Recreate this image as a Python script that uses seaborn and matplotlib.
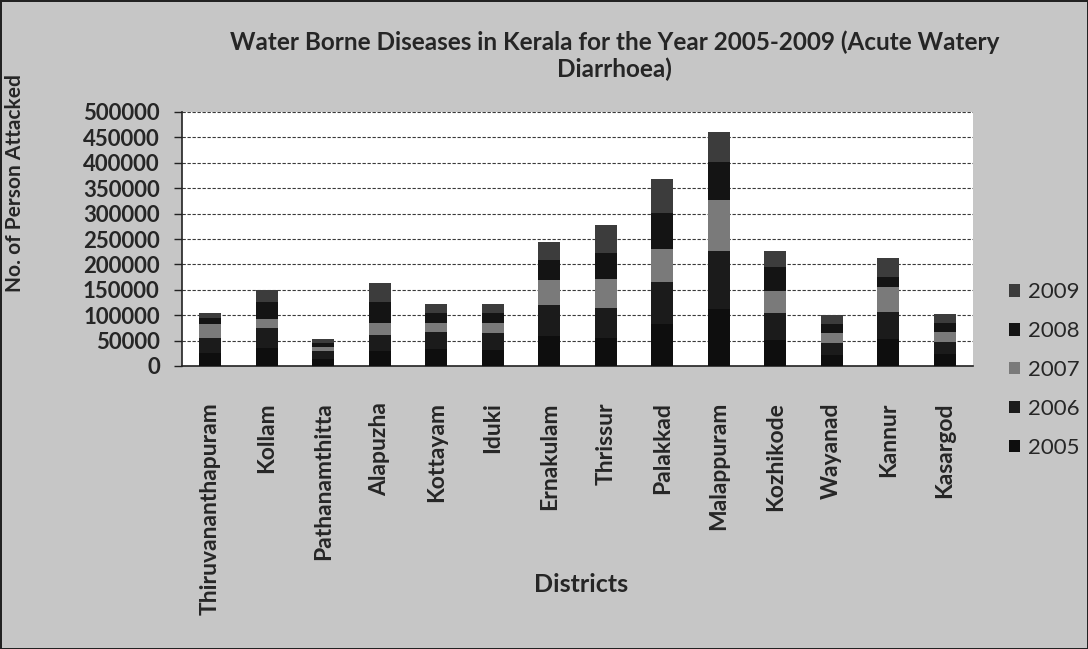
import numpy as np
import pandas as pd
import matplotlib
matplotlib.use('Agg')
import matplotlib.pyplot as plt
import seaborn as sns

# Style
sns.set_style("white")
plt.rcParams['font.family'] = ['Lato', 'DejaVu Sans']

# Data (cases per year, stacked)
districts = ['Thiruvananthapuram', 'Kollam', 'Pathanamthitta', 'Alapuzha', 'Kottayam',
             'Iduki', 'Ernakulam', 'Thrissur', 'Palakkad', 'Malappuram',
             'Kozhikode', 'Wayanad', 'Kannur', 'Kasargod']
years = ['2005', '2006', '2007', '2008', '2009']
cases_2005 = [26000, 36000, 14500, 30000, 33000, 32000, 59000, 56000, 82000, 112000, 51000, 22000, 53000, 23500]
cases_2006 = [28500, 38000, 15000, 31000, 34500, 33500, 61000, 57500, 84000, 115000, 52500, 22500, 54000, 24500]
cases_2007 = [27500, 18500, 8500, 24000, 17500, 20000, 49000, 57000, 63500, 100000, 45000, 20000, 49000, 19500]
cases_2008 = [12000, 34000, 7500, 40000, 19000, 18000, 39500, 51000, 71000, 75000, 47000, 18500, 20000, 17500]
cases_2009 = [11000, 23000, 7000, 38000, 18000, 18500, 35000, 57000, 67000, 58500, 31000, 17500, 36000, 17000]

year_colors = {'2005': '#0e0e0e', '2006': '#1b1b1b', '2007': '#7a7a7a',
               '2008': '#141414', '2009': '#3c3c3c'}

df = pd.DataFrame({'District': districts, '2005': cases_2005, '2006': cases_2006,
                   '2007': cases_2007, '2008': cases_2008, '2009': cases_2009})
cum = df[years].cumsum(axis=1)
cum['District'] = df['District']

fig = plt.figure(figsize=(10.88, 6.49), dpi=100)
fig.patch.set_facecolor('#c6c6c6')
fig.patch.set_edgecolor('#222222')
fig.patch.set_linewidth(2)

ax = fig.add_axes([182 / 1088, 1 - 366 / 649, 791 / 1088, 254 / 649])
ax.set_facecolor('white')

# stacked bars: draw cumulative totals, tallest first
for year in reversed(years):
    sns.barplot(data=cum, x='District', y=year, color=year_colors[year],
                saturation=1, width=0.39, linewidth=0, label=year, ax=ax, zorder=3)
handles, labels = ax.get_legend_handles_labels()
if ax.get_legend() is not None:
    ax.get_legend().remove()

ax.set_xlim(-0.5, len(districts) - 0.5)
ax.set_ylim(0, 500000)
ax.set_yticks(np.arange(0, 500001, 50000))
ax.set_yticklabels([f'{int(v)}' for v in np.arange(0, 500001, 50000)],
                   fontsize=16, fontweight='bold')
ax.yaxis.grid(True, color='#3a3a3a', linestyle=(0, (3, 1.5)), linewidth=0.8, zorder=0)
ax.set_axisbelow(True)

ax.set_xticks(range(len(districts)))
ax.set_xticklabels(districts, rotation=90, fontsize=16.5, fontweight='bold')
ax.set_xticks(np.arange(-0.5, len(districts)), minor=True)
ax.tick_params(axis='x', which='major', length=0, pad=26)
ax.tick_params(axis='x', which='minor', length=6, width=1, color='#222222', direction='out')
ax.tick_params(axis='y', length=6, width=1, color='#222222', direction='out', pad=10, left=True)

for side in ['top', 'right']:
    ax.spines[side].set_visible(False)
for side in ['left', 'bottom']:
    ax.spines[side].set_color('#222222')
    ax.spines[side].set_linewidth(1.2)

ax.set_xlabel('Districts', fontsize=18, fontweight='bold')
ax.xaxis.set_label_coords(0.505, -0.815)
ax.set_ylabel('No. of Person Attacked', fontsize=15, fontweight='bold')
ax.yaxis.set_label_coords(-0.198, 0.72)

fig.text(0.565, 1 - 56 / 649,
         'Water Borne Diseases in Kerala for the Year 2005-2009 (Acute Watery\nDiarrhoea)',
         ha='center', va='center', fontsize=17.5, fontweight='bold', linespacing=1.2)

fig.legend(handles, labels, loc='center left', bbox_to_anchor=(1000 / 1088, 1 - 370 / 649),
           frameon=False, fontsize=16, handlelength=0.5, handleheight=0.5,
           handletextpad=0.35, labelspacing=0.85, borderaxespad=0)

fig.savefig('out.png', dpi=100, facecolor=fig.get_facecolor(), edgecolor=fig.get_edgecolor())
